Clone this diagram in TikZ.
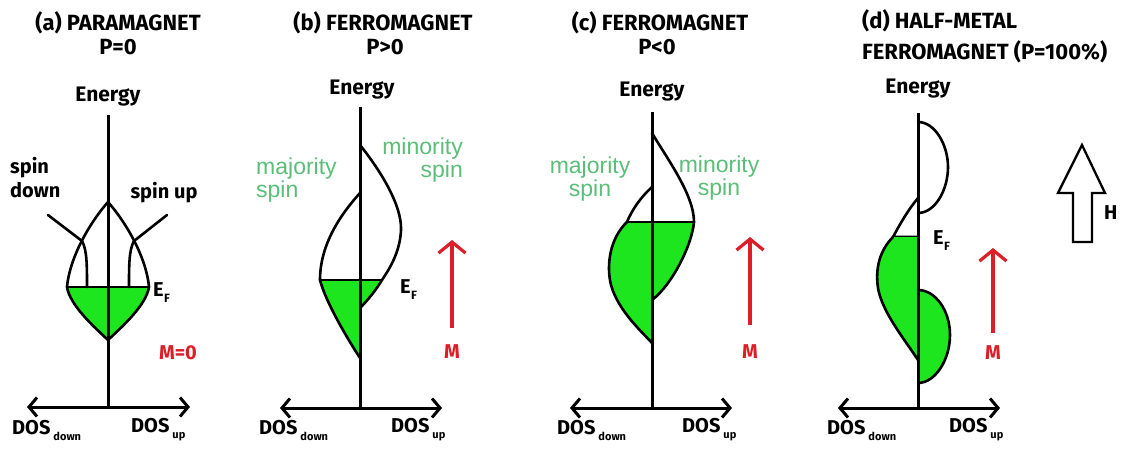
\documentclass[tikz,border=0pt]{standalone}
\usepackage{fontspec}
\setmainfont{Fira Sans}
\newfontfamily\greenfont{Liberation Sans}
\usetikzlibrary{arrows.meta}
\definecolor{fillg}{RGB}{30,230,30}
\definecolor{txtg}{RGB}{90,190,120}
\definecolor{mred}{RGB}{220,30,40}
\newcommand\fsz[1]{\fontsize{#1}{#1}\selectfont}
\newcommand\dosl[1]{\textbf{DOS}\kern3pt\raisebox{-6pt}{\fsz{11}\bfseries #1}}
\newcommand\efl{\textbf{E}\kern0.5pt\raisebox{-6pt}{\fsz{12}\bfseries F}}
\begin{document}
\begin{tikzpicture}[x=1pt,y=-1pt,
  title/.style={font=\fsz{22}\bfseries, inner sep=0pt},
  energy/.style={font=\fsz{21}\bfseries, inner sep=0pt},
  lbl/.style={font=\fsz{20}\bfseries, inner sep=0pt},
  redlbl/.style={font=\fsz{20}\bfseries, text=mred, inner sep=0pt},
  glbl/.style={font=\greenfont\fsz{23}, text=txtg, inner sep=0pt, align=center},
  band/.style={draw=black, line width=2.6pt, line join=round, line cap=round},
  axisline/.style={line width=3pt},
  dosaxis/.style={line width=3pt, {Straight Barb[length=8pt,width=19pt]}-{Straight Barb[length=8pt,width=19pt]}},
  marrow/.style={draw=mred, line width=3.2pt, -{Straight Barb[length=11pt,width=27pt]}},
]
\useasboundingbox (0,0) rectangle (1127,452);

% ---------------- panel (a) ----------------
\node[title] (atitle) at (118,23) {(a) PARAMAGNET};
\node[title] (ap) at (118,47) {P=0};
\node[energy] (aen) at (108,97) {Energy};
\coordinate (aT) at (108,115);
\coordinate (aO) at (108,407);
\coordinate (aXL) at (27,407);
\coordinate (aXR) at (190,407);
\fill[fillg] (67,287) .. controls (70,305) and (92,325) .. (108,340) .. controls (124,325) and (146,305) .. (149,287) -- cycle;
\draw[band] (67,287) .. controls (70,305) and (92,325) .. (108,340) .. controls (124,325) and (146,305) .. (149,287);
\draw[band] (67,287) .. controls (70,255) and (92,220) .. (108,202) .. controls (124,220) and (146,255) .. (149,287);
\draw[band] (67,287) -- (149,287);
\coordinate (aPL) at (82,241);
\coordinate (aPR) at (134,241);
\coordinate (aSL) at (48,215);
\coordinate (aSR) at (167,215);
\draw[band] (aSL) -- (aPL) .. controls (87,250) and (87,265) .. (87,287);
\draw[band] (aSR) -- (aPR) .. controls (129,250) and (129,265) .. (129,287);
\draw[axisline] (aT) -- (aO);
\draw[dosaxis] (aXL) -- (aXR);
\node[lbl, anchor=west, align=left] (aspd) at (10,178) {spin\\[4pt]down};
\node[lbl] (aspu) at (164,193) {spin up};
\node[lbl, anchor=west] (aef) at (153,293) {\efl};
\node[redlbl] (am) at (178,353) {M=0};
\node[lbl, anchor=west] (adosd) at (12,430) {\dosl{down}};
\node[lbl, anchor=west] (adosu) at (131,430) {\dosl{up}};

% ---------------- panel (b) ----------------
\node[title] (btitle) at (383,23) {(b) FERROMAGNET};
\node[title] (bp) at (385,47) {P>0};
\node[energy] (ben) at (362,90) {Energy};
\coordinate (bT) at (360,107);
\coordinate (bO) at (360,408);
\coordinate (bXL) at (280,408);
\coordinate (bXR) at (442,408);
\fill[fillg] (320,280) .. controls (325,300) and (345,335) .. (360,358) -- (360,308) .. controls (368,300) and (376,290) .. (382,280) -- cycle;
\draw[band] (360,193) .. controls (340,215) and (320,245) .. (320,280) .. controls (325,300) and (345,335) .. (360,358);
\draw[band] (360,145) .. controls (380,170) and (402,205) .. (401,230) .. controls (400,252) and (390,268) .. (382,280) .. controls (376,290) and (368,300) .. (360,308);
\draw[band] (320,280) -- (382,280);
\draw[axisline] (bT) -- (bO);
\draw[dosaxis] (bXL) -- (bXR);
\node[glbl, anchor=west, align=left] (bmaj) at (256,180) {majority\\spin};
\node[glbl, anchor=east, align=right] (bmin) at (463,160) {minority\\spin};
\node[lbl, anchor=west] (bef) at (400,290) {\efl};
\coordinate (bm0) at (452,328);
\coordinate (bm1) at (452,240);
\draw[marrow] (bm0) -- (bm1);
\node[redlbl] (bm) at (452,352) {M};
\node[lbl, anchor=west] (bdosd) at (259,430) {\dosl{down}};
\node[lbl, anchor=west] (bdosu) at (391,430) {\dosl{up}};

% ---------------- panel (c) ----------------
\node[title] (ctitle) at (660,23) {(c) FERROMAGNET};
\node[title] (cp) at (657,47) {P<0};
\node[energy] (cen) at (652,92) {Energy};
\coordinate (cT) at (652,112);
\coordinate (cO) at (652,408);
\coordinate (cXL) at (570,408);
\coordinate (cXR) at (732,408);
\fill[fillg] (627,222) .. controls (610,238) and (606,265) .. (611,285) .. controls (618,310) and (640,330) .. (652,343) -- (652,300) .. controls (672,285) and (692,245) .. (694,222) -- cycle;
\draw[band] (652,187) .. controls (640,198) and (632,210) .. (627,222) .. controls (610,238) and (606,265) .. (611,285) .. controls (618,310) and (640,330) .. (652,343);
\draw[band] (652,133) .. controls (668,160) and (694,195) .. (694,222) .. controls (692,245) and (672,285) .. (652,300);
\draw[band] (627,222) -- (694,222);
\draw[axisline] (cT) -- (cO);
\draw[dosaxis] (cXL) -- (cXR);
\node[glbl] (cmaj) at (590,179) {majority\\spin};
\node[glbl] (cmin) at (719,178) {minority\\spin};
\coordinate (cm0) at (750,325);
\coordinate (cm1) at (750,237);
\draw[marrow] (cm0) -- (cm1);
\node[redlbl] (cm) at (750,352) {M};
\node[lbl, anchor=west] (cdosd) at (557,430) {\dosl{down}};
\node[lbl, anchor=west] (cdosu) at (682,430) {\dosl{up}};

% ---------------- panel (d) ----------------
\node[title, anchor=west] (dtitle1) at (862,21) {(d) HALF-METAL};
\node[title, anchor=west] (dtitle2) at (862,52) {FERROMAGNET (P=100\%)};
\node[energy] (den) at (918,89) {Energy};
\coordinate (dT) at (918,113);
\coordinate (dO) at (918,408);
\coordinate (dXL) at (838,408);
\coordinate (dXR) at (1000,408);
\draw[band] (918,122) .. controls (935,122) and (948,145) .. (948,167) .. controls (948,190) and (935,213) .. (918,213);
\draw[band] (918,198) .. controls (908,210) and (900,224) .. (893,237) -- (918,237);
\fill[fillg] (893,237) .. controls (880,250) and (875,268) .. (878,288) .. controls (882,312) and (905,340) .. (918,360) -- (918,237) -- cycle;
\draw[band] (893,237) .. controls (880,250) and (875,268) .. (878,288) .. controls (882,312) and (905,340) .. (918,360);
\fill[fillg] (918,290) .. controls (935,290) and (950,310) .. (950,335) .. controls (950,360) and (935,383) .. (918,383) -- cycle;
\draw[band] (918,290) .. controls (935,290) and (950,310) .. (950,335) .. controls (950,360) and (935,383) .. (918,383);
\draw[axisline] (dT) -- (dO);
\draw[dosaxis] (dXL) -- (dXR);
\node[lbl, anchor=west] (def) at (933,241) {\efl};
\coordinate (dm0) at (993,333);
\coordinate (dm1) at (993,248);
\draw[marrow] (dm0) -- (dm1);
\node[redlbl] (dm) at (993,353) {M};
\draw[line width=2.3pt, line join=miter] (1082,145) -- (1105,193) -- (1092,193) -- (1092,242) -- (1073,242) -- (1073,193) -- (1058,193) -- cycle;
\node[lbl, anchor=west] (dh) at (1104,213) {H};
\node[lbl, anchor=west] (ddosd) at (827,430) {\dosl{down}};
\node[lbl, anchor=west] (ddosu) at (949,430) {\dosl{up}};
\end{tikzpicture}
\end{document}
